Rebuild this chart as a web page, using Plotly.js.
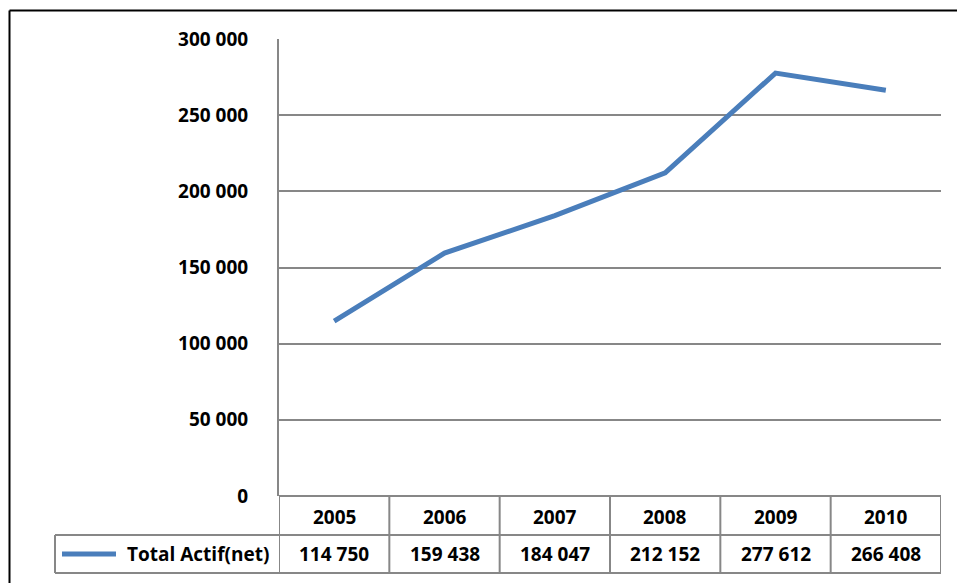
<!DOCTYPE html>
<html><head><meta charset="utf-8">
<script src="https://cdn.plot.ly/plotly-3.0.1.min.js"></script>
<style>html,body{margin:0;padding:0;background:#fff;}#chart{width:957px;height:583px;}</style>
</head><body><div id="chart"></div>
<script>
const years = ['2005','2006','2007','2008','2009','2010'];
const totalActif = [114750, 159438, 184047, 212152, 277612, 266408];
const seriesName = 'Total Actif(net)';
const yTicks = [0, 50000, 100000, 150000, 200000, 250000, 300000];

const W = 957, H = 583, L = 279, R = 941, T = 39, B = 496;
const px = x => (x - L) / (R - L);
const py = y => (B - y) / (B - T);
const fmt = v => String(v).replace(/\B(?=(\d{3})+(?!\d))/g, ' ');

const FONT = {family: 'Open Sans, sans-serif', size: 19, color: '#000', weight: 'bold'};
const GRID = '#878787';
const BLUE = '#4a7ebb';

const shapes = [];
const annotations = [];
// outer frame
shapes.push({type:'line', xref:'paper', yref:'paper', x0:px(9.5), x1:px(980), y0:py(10.5), y1:py(10.5), line:{color:'#000', width:2}});
shapes.push({type:'line', xref:'paper', yref:'paper', x0:px(9.5), x1:px(9.5), y0:py(10.5), y1:py(600), line:{color:'#000', width:2}});
// table: column boundaries
for (let i = 0; i <= years.length; i++) {
  shapes.push({type:'line', xref:'x', yref:'paper', x0:i-0.5, x1:i-0.5, y0:0, y1:py(573), line:{color:GRID, width:2}});
}
// row lines
shapes.push({type:'line', xref:'paper', yref:'paper', x0:px(55), x1:1, y0:py(535), y1:py(535), line:{color:GRID, width:2}});
shapes.push({type:'line', xref:'paper', yref:'paper', x0:px(55), x1:1, y0:py(573), y1:py(573), line:{color:GRID, width:2}});
shapes.push({type:'line', xref:'paper', yref:'paper', x0:px(55), x1:px(55), y0:py(535), y1:py(573), line:{color:GRID, width:2}});
// legend key
shapes.push({type:'line', xref:'paper', yref:'paper', x0:px(62), x1:px(116), y0:py(554), y1:py(554), line:{color:BLUE, width:5}});
annotations.push({xref:'paper', yref:'paper', x:px(271), y:py(554), xanchor:'right', yanchor:'middle', text:seriesName, showarrow:false, font:FONT});

years.forEach((yr, i) => {
  annotations.push({xref:'x', yref:'paper', x:i, y:py(517), xanchor:'center', yanchor:'middle', text:yr, showarrow:false, font:FONT});
  annotations.push({xref:'x', yref:'paper', x:i, y:py(554), xanchor:'center', yanchor:'middle', text:fmt(totalActif[i]), showarrow:false, font:FONT});
});

const trace = {
  type:'scatter', mode:'lines', x:years.map((_, i) => i), y:totalActif,
  name:seriesName, line:{color:BLUE, width:5}, hoverinfo:'skip', cliponaxis:false
};

const layout = {
  width:W, height:H, margin:{l:L, r:W-R, t:T, b:H-B, pad:0},
  paper_bgcolor:'#fff', plot_bgcolor:'#fff', showlegend:false,
  separators:', ',
  xaxis:{range:[-0.5, years.length-0.5], showgrid:false, zeroline:false, showticklabels:false, ticks:'', showline:false, fixedrange:true},
  yaxis:{range:[0, 300000], tickvals:yTicks, ticktext:yTicks.map(fmt), showgrid:true, gridcolor:GRID, gridwidth:2,
         zeroline:true, zerolinecolor:GRID, zerolinewidth:2, showline:true, linecolor:GRID, linewidth:2,
         ticks:'', ticklabelstandoff:25, tickfont:FONT, fixedrange:true},
  shapes, annotations
};
Plotly.newPlot('chart', [trace], layout, {staticPlot:true, displayModeBar:false});
</script></body></html>
